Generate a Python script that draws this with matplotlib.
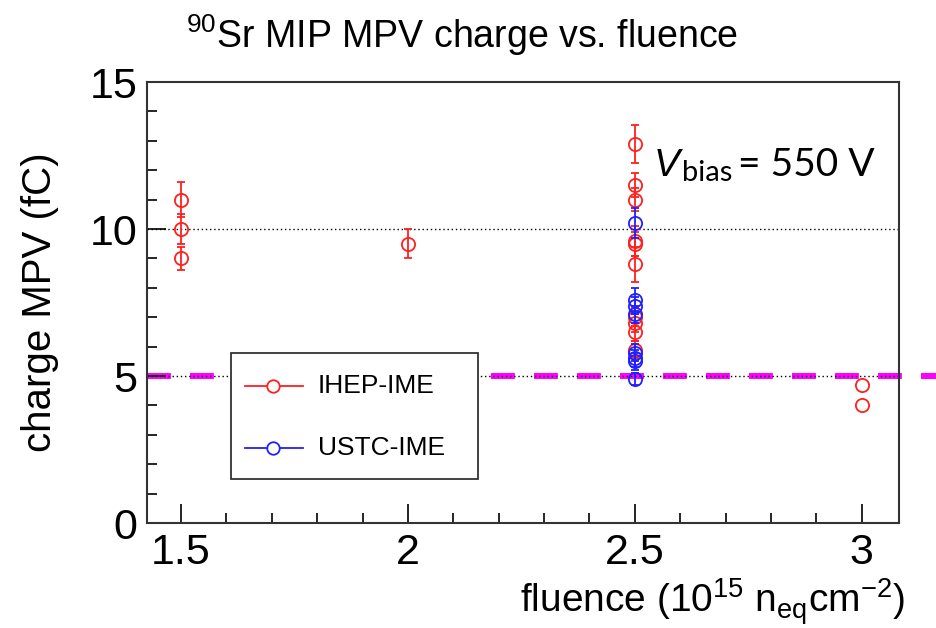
import matplotlib
matplotlib.use("Agg")
import matplotlib.pyplot as plt
from matplotlib.ticker import MultipleLocator
from matplotlib.lines import Line2D
from matplotlib.patches import Rectangle

plt.rcParams['font.family'] = ['Liberation Sans', 'DejaVu Sans']
plt.rcParams['mathtext.fontset'] = 'custom'
plt.rcParams['mathtext.rm'] = 'Liberation Sans'
plt.rcParams['mathtext.it'] = 'Liberation Sans:italic'

nan = float('nan')

# IHEP-IME points (errors at 3.0 are hidden by the markers)
ihep_x = [1.5, 1.5, 1.5, 2.0, 2.5, 2.5, 2.5, 2.5, 2.5, 2.5, 2.5, 2.5, 2.5, 2.5, 3.0, 3.0]
ihep_y = [11.0, 10.0, 9.0, 9.5, 12.9, 11.5, 11.0, 9.6, 9.5, 8.8, 7.0, 6.8, 6.5, 5.9, 4.7, 4.0]
ihep_err = [0.6, 0.5, 0.4, 0.5, 0.65, 0.4, 0.4, 0.5, 0.4, 0.6, 0.3, 0.3, 0.3, 0.3, nan, nan]

# USTC-IME points
ustc_x = [2.5, 2.5, 2.5, 2.5, 2.5, 2.5, 2.5, 2.5]
ustc_y = [10.2, 7.6, 7.4, 7.1, 5.8, 5.6, 5.5, 4.9]
ustc_err = [0.5, 0.4, 0.3, 0.3, 0.3, 0.3, 0.3, 0.2]

threshold = 5.0
series_names = ['IHEP-IME', 'USTC-IME']
series_colors = ['#ff2020', '#2020ff']

fig = plt.figure(figsize=(9.36, 6.28), dpi=100)
ax = fig.add_axes([0.157, 0.167, 0.8035, 0.7024])

ax.set_xlim(1.425, 3.082)
ax.set_ylim(0, 15)

ax.axhline(10, color='black', ls=(0, (1, 2)), lw=1)
ax.axhline(5, color='black', ls=(0, (1, 2)), lw=1)
ax.plot([0, 1.12], [threshold, threshold], transform=ax.get_yaxis_transform(),
        color='#ff00ff', lw=4.3, ls=(0, (4, 3.2)), clip_on=False, zorder=1)

ax.errorbar(ihep_x, ihep_y, yerr=ihep_err, fmt='o', color=series_colors[0], mfc='none',
            ms=9.5, mew=1.3, elinewidth=1.3, capsize=3, capthick=1.3, zorder=3)
ax.errorbar(ustc_x, ustc_y, yerr=ustc_err, fmt='o', color=series_colors[1], mfc='none',
            ms=9.5, mew=1.3, elinewidth=1.3, capsize=3, capthick=1.3, zorder=4)

ax.xaxis.set_major_locator(MultipleLocator(0.5))
ax.xaxis.set_minor_locator(MultipleLocator(0.1))
ax.yaxis.set_major_locator(MultipleLocator(5))
ax.yaxis.set_minor_locator(MultipleLocator(1))
ax.set_xticks([1.5, 2, 2.5, 3])
ax.set_xticklabels(['1.5', '2', '2.5', '3'])
ax.tick_params(which='both', direction='in', top=False, right=False, labelsize=31, width=1.2)
ax.tick_params(which='major', length=14, pad=7)
ax.tick_params(which='minor', length=7)
for s in ax.spines.values():
    s.set_linewidth(1.5)
    s.set_color('#333333')

ax.set_ylabel('charge MPV (fC)', fontsize=29)
ax.yaxis.set_label_coords(-0.117, 0.5)
ax.set_xlabel(r'fluence (10$^{15}$ n$_{\mathrm{eq}}$cm$^{-2}$)', fontsize=28, loc='right')
ax.xaxis.set_label_coords(1.008, -0.122)

fig.text(0.494, 0.944, r'$^{90}$Sr MIP MPV charge vs. fluence', fontsize=27, ha='center', va='center')
fig.text(0.698, 0.737, r'$V$', fontsize=28, ha='left', va='center', family='Lato', style='italic')
fig.text(0.729, 0.724, 'bias', fontsize=21, ha='left', va='center', family='Lato')
fig.text(0.788, 0.737, '= 550 V', fontsize=28, ha='left', va='center', family='Lato')

# legend box drawn by hand, ROOT style
fig.patches.append(Rectangle((0.2468, 0.2373), 0.2639, 0.2006, transform=fig.transFigure,
                             facecolor='white', edgecolor='#333333', lw=1.3, zorder=5))
for name, col, yy in zip(series_names, series_colors, [0.3854, 0.2866]):
    fig.lines.append(Line2D([0.2618, 0.3237], [yy, yy], transform=fig.transFigure,
                            color=col, lw=1.3, zorder=6))
    fig.lines.append(Line2D([0.2917], [yy], transform=fig.transFigure, marker='o',
                            mfc='white', mec=col, ms=9, mew=1.3, zorder=7))
    fig.text(0.3397, yy, name, fontsize=19, ha='left', va='center', zorder=8)

fig.savefig('out.png', dpi=100)
